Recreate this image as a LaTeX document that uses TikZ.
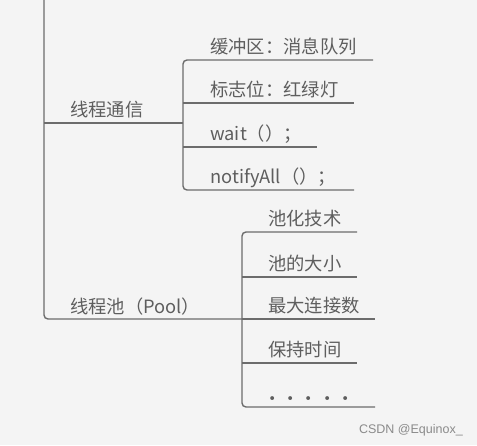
\documentclass[tikz,border=0pt]{standalone}
\usepackage{fontspec}
\setmainfont{Noto Sans CJK SC}
\newfontfamily\wmfont{Liberation Sans}
\definecolor{bgc}{HTML}{F4F4F4}
\definecolor{linec}{HTML}{6C6C6C}
\definecolor{txtc}{HTML}{5E5E5E}
\definecolor{wmc}{HTML}{8A8A8A}
\begin{document}
\begin{tikzpicture}[x=1pt,y=-1pt,
  ln/.style={draw=linec, line width=1.4pt, rounded corners=4pt},
  lbl/.style={anchor=base west, inner sep=0pt, text=txtc, font=\fontsize{18.3}{21}\selectfont}]
\fill[bgc] (0,0) rectangle (477,445);
\useasboundingbox (0,0) rectangle (477,445);
% trunk
\coordinate (top) at (44,-5);
\coordinate (corner) at (44,319);
\coordinate (pj) at (242,319);
\coordinate (tc) at (44,123);
\coordinate (cj) at (183,123);
\draw[ln] (top) -- (corner) -- (pj);
\draw[ln] (tc) -- (cj);
% labels on trunk branches
\node[lbl] (comm) at (70,116) {线程通信};
\node[lbl] (pool) at (70,313) {线程池（Pool）};
% bracket 1
\coordinate (c1s) at (183,60);  \coordinate (c1e) at (373,60);
\coordinate (c2s) at (183,103); \coordinate (c2e) at (354,103);
\coordinate (c3s) at (183,147); \coordinate (c3e) at (317,147);
\coordinate (c4s) at (183,190); \coordinate (c4e) at (354,190);
\draw[ln] (c1e) -- (c1s) -- (c4s) -- (c4e);
\draw[ln] (c2s) -- (c2e);
\draw[ln] (c3s) -- (c3e);
\node[lbl] (i1) at (210,53) {缓冲区：消息队列};
\node[lbl] (i2) at (210,96) {标志位：红绿灯};
\node[lbl] (i3) at (210,140) {wait（）；};
\node[lbl] (i4) at (210,183) {notifyAll（）；};
% bracket 2
\coordinate (p1s) at (242,232); \coordinate (p1e) at (357,232);
\coordinate (p2s) at (242,277); \coordinate (p2e) at (357,277);
\coordinate (p3s) at (242,319); \coordinate (p3e) at (375,319);
\coordinate (p4s) at (242,363); \coordinate (p4e) at (357,363);
\coordinate (p5s) at (242,407); \coordinate (p5e) at (375,407);
\draw[ln] (p1e) -- (p1s) -- (p5s) -- (p5e);
\draw[ln] (p2s) -- (p2e);
\draw[ln] (p3s) -- (p3e);
\draw[ln] (p4s) -- (p4e);
\node[lbl] (q1) at (268,225) {池化技术};
\node[lbl] (q2) at (268,270) {池的大小};
\node[lbl] (q3) at (268,312) {最大连接数};
\node[lbl] (q4) at (268,356) {保持时间};
\node[lbl] (q5) at (263,405) {・・・・・};
% watermark
\node[anchor=base east, inner sep=0pt, text=wmc, font=\wmfont\fontsize{12.5}{14}\selectfont] (wm) at (463,433) {CSDN @Equinox\_};
\end{tikzpicture}
\end{document}
